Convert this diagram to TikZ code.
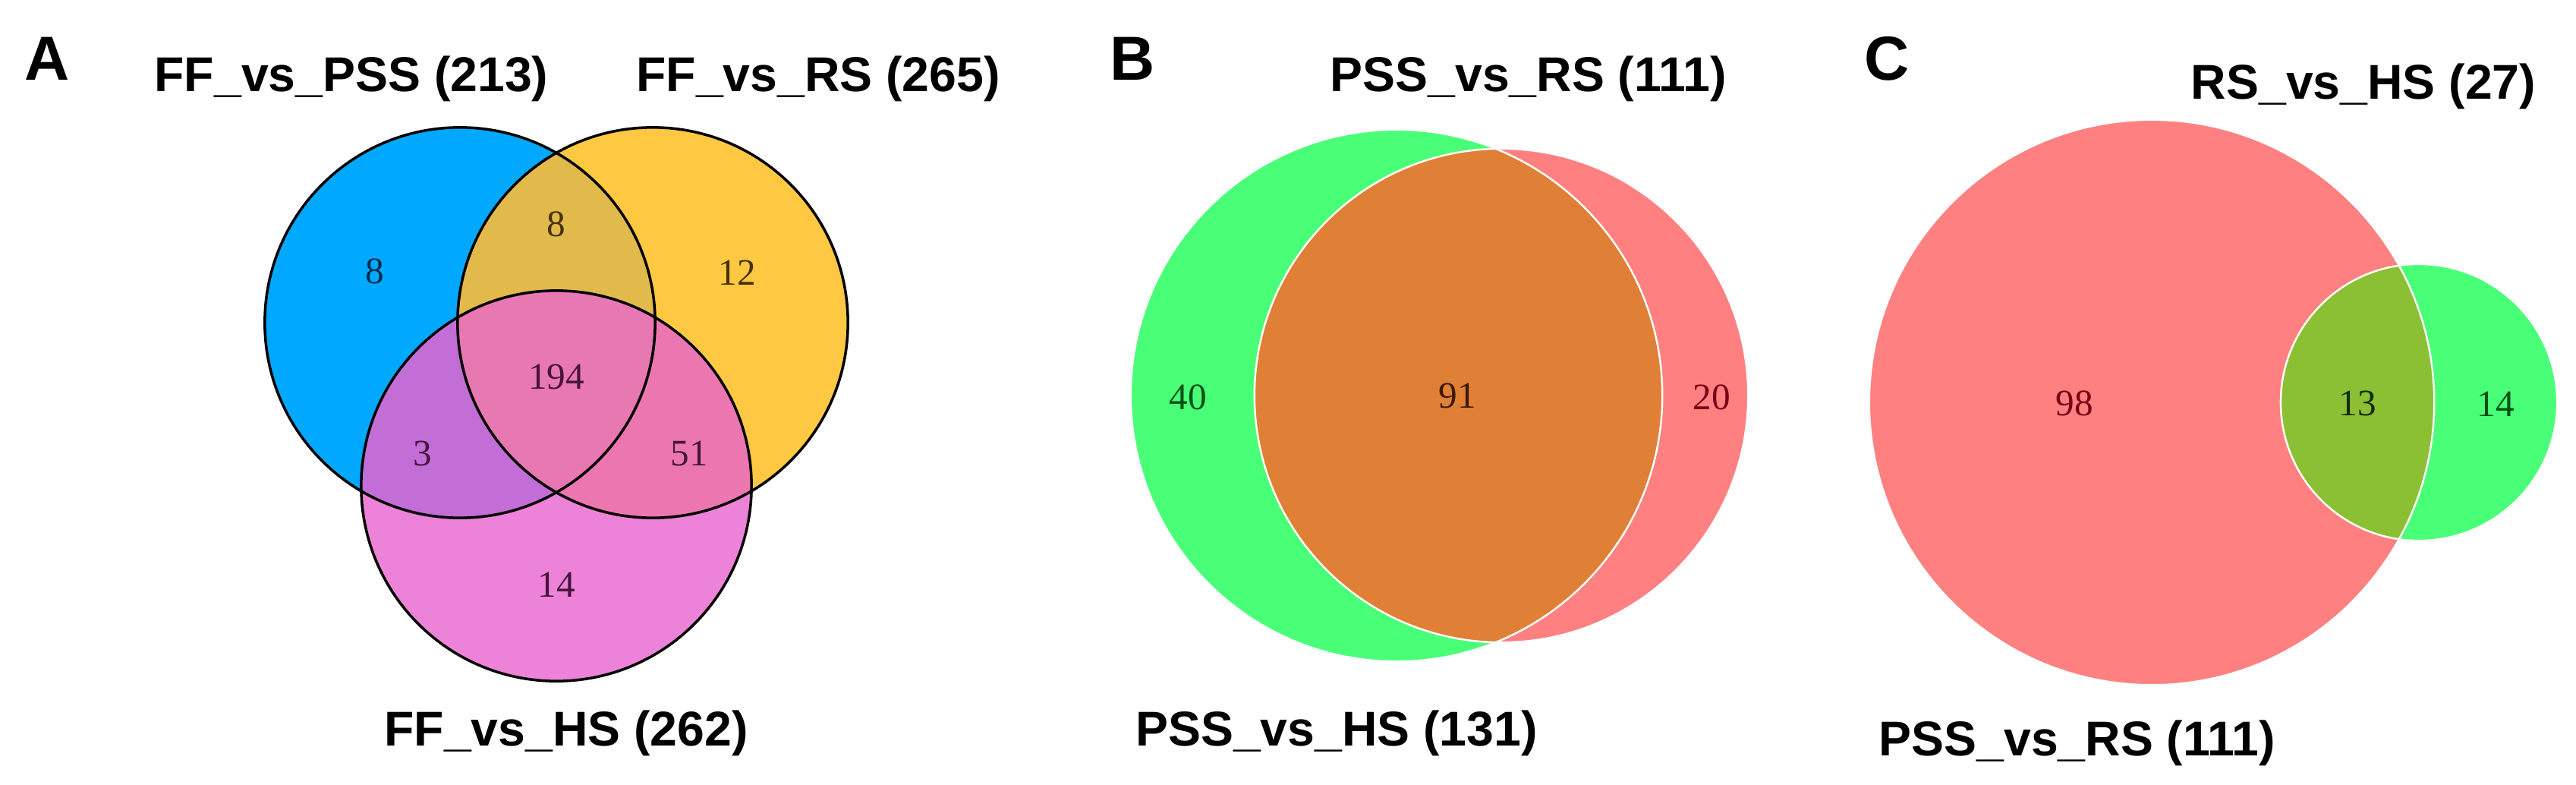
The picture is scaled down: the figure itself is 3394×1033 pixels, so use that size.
\documentclass[tikz,border=0pt]{standalone}
\usepackage{fontspec}
\setmainfont{Liberation Serif}
\setsansfont{Liberation Sans}
\definecolor{cBlue}{RGB}{0,169,255}
\definecolor{cYel}{RGB}{255,200,67}
\definecolor{cPink}{RGB}{237,131,216}
\definecolor{cBY}{RGB}{226,186,76}
\definecolor{cBP}{RGB}{194,110,214}
\definecolor{cYP}{RGB}{236,119,176}
\definecolor{cBYP}{RGB}{232,120,178}
\definecolor{cGreen}{RGB}{74,255,120}
\definecolor{cRed}{RGB}{255,128,128}
\definecolor{cOrange}{RGB}{224,128,54}
\definecolor{cOlive}{RGB}{139,192,52}
\definecolor{tBlue}{RGB}{0,45,80}
\definecolor{tBrown}{RGB}{70,50,0}
\definecolor{tPurple}{RGB}{70,20,60}
\definecolor{tGreen}{RGB}{0,80,20}
\definecolor{tRed}{RGB}{120,0,20}
\definecolor{tDark}{RGB}{60,25,0}
\definecolor{tOlive}{RGB}{20,45,0}
\begin{document}
\begin{tikzpicture}[x=0.01cm,y=-0.01cm,
  lab/.style={font=\sffamily\bfseries\fontsize{18.3}{22}\selectfont, anchor=base, inner sep=0pt},
  panel/.style={font=\sffamily\bfseries\fontsize{23.3}{28}\selectfont, anchor=base, inner sep=0pt},
  num/.style={font=\fontsize{14}{17}\selectfont, inner sep=0pt},
  outl/.style={draw=black, line width=1pt},
  wline/.style={draw=white, line width=0.7pt}]
\useasboundingbox (0,0) rectangle (3394,1033);

% ---------- Panel A ----------
\fill[cBlue] (606,425) circle (2.57cm);
\fill[cYel] (860,425) circle (2.57cm);
\fill[cPink] (733,640) circle (2.57cm);
\begin{scope}
  \clip (606,425) circle (2.57cm);
  \fill[cBY] (860,425) circle (2.57cm);
  \fill[cBP] (733,640) circle (2.57cm);
\end{scope}
\begin{scope}
  \clip (860,425) circle (2.57cm);
  \fill[cYP] (733,640) circle (2.57cm);
\end{scope}
\begin{scope}
  \clip (606,425) circle (2.57cm);
  \clip (860,425) circle (2.57cm);
  \fill[cBYP] (733,640) circle (2.57cm);
\end{scope}
\draw[outl] (606,425) circle (2.57cm);
\draw[outl] (860,425) circle (2.57cm);
\draw[outl] (733,640) circle (2.57cm);

\node[panel] (pA) at (62,105) {A};
\node[lab] (lA1) at (463,120) {FF\_vs\_PSS (213)};
\node[lab] (lA2) at (1078,120) {FF\_vs\_RS (265)};
\node[lab] (lA3) at (746,982) {FF\_vs\_HS (262)};
\node[num, text=tBlue] (nA1) at (494,357) {8};
\node[num, text=tBrown] (nA2) at (733,295) {8};
\node[num, text=tBrown] (nA3) at (971,359) {12};
\node[num, text=tPurple] (nA4) at (733,496) {194};
\node[num, text=tPurple] (nA5) at (557,597) {3};
\node[num, text=tPurple] (nA6) at (908,597) {51};
\node[num, text=tPurple] (nA7) at (733,770) {14};

% ---------- Panel B ----------
\fill[cGreen] (1840,521) circle (3.50cm);
\fill[cRed] (1978,521) circle (3.25cm);
\begin{scope}
  \clip (1840,521) circle (3.50cm);
  \fill[cOrange] (1978,521) circle (3.25cm);
\end{scope}
\draw[wline] (1840,521) circle (3.50cm);
\draw[wline] (1978,521) circle (3.25cm);

\node[panel] (pB) at (1492,105) {B};
\node[lab] (lB1) at (2014,120) {PSS\_vs\_RS (111)};
\node[lab] (lB2) at (1761,982) {PSS\_vs\_HS (131)};
\node[num, text=tGreen] (nB1) at (1565,523) {40};
\node[num, text=tDark] (nB2) at (1920,521) {91};
\node[num, text=tRed] (nB3) at (2255,523) {20};

% ---------- Panel C ----------
\fill[cRed] (2835,530) circle (3.72cm);
\fill[cGreen] (3187,530) circle (1.82cm);
\begin{scope}
  \clip (2835,530) circle (3.72cm);
  \fill[cOlive] (3187,530) circle (1.82cm);
\end{scope}
\draw[wline] (2835,530) circle (3.72cm);
\draw[wline] (3187,530) circle (1.82cm);

\node[panel] (pC) at (2486,105) {C};
\node[lab] (lC1) at (3114,130) {RS\_vs\_HS (27)};
\node[lab] (lC2) at (2737,995) {PSS\_vs\_RS (111)};
\node[num, text=tRed] (nC1) at (2733,531) {98};
\node[num, text=tOlive] (nC2) at (3106,531) {13};
\node[num, text=tGreen] (nC3) at (3288,532) {14};
\end{tikzpicture}
\end{document}
